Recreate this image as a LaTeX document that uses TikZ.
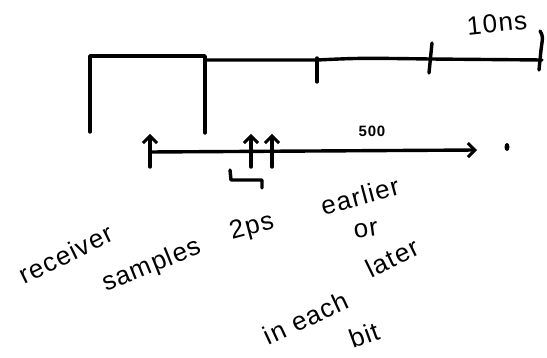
\documentclass[tikz,border=0pt]{standalone}
\usepackage{fontspec}
\setmainfont{Liberation Sans}[LetterSpace=5]
\usetikzlibrary{arrows.meta}
\begin{document}
\begin{tikzpicture}[x=1pt,y=-1pt,
  pen/.style={line width=3.4pt,line cap=round,line join=round,black},
  hand/.style={font=\fontsize{26}{28}\selectfont,inner sep=0pt},
  barb/.style={-{Straight Barb[length=7pt,width=14pt,line width=3pt]}}]
\useasboundingbox (0,0) rectangle (547,358);
% waveform
\coordinate (w0) at (90,132);
\coordinate (w1) at (90,56);
\coordinate (w2) at (205,56);
\coordinate (w3) at (205,133);
\coordinate (w4) at (207,60);
\coordinate (w5) at (317,60);
\coordinate (w6) at (430,59);
\coordinate (w7) at (542,60);
\draw[pen] (w0) -- (w1) -- (w2) -- (w3);
\draw[pen] (w4) -- (w5) .. controls (360,58) .. (w6) -- (w7);
% ticks
\coordinate (t1a) at (317,58); \coordinate (t1b) at (317,82);
\coordinate (t2a) at (432,43); \coordinate (t2b) at (429,73);
\coordinate (t3a) at (540,31); \coordinate (t3b) at (539,70);
\draw[pen] (t1a) -- (t1b);
\draw[pen] (t2a) -- (t2b);
\draw[pen] (t3a) .. controls (543,36) .. (541,50) -- (t3b);
\node[hand,rotate=6] (tenns) at (497,23) {10ns};
% time axis
\coordinate (a0) at (150,152);
\coordinate (a1) at (477,150);
\draw[pen,barb] (a0) -- (a1);
\node[font=\fontsize{15}{16}\selectfont\bfseries,inner sep=0pt] (five) at (372,131) {500};
\fill (507,147) ellipse (2.5pt and 4pt);
\coordinate (dot) at (507,147);
% sample arrows
\coordinate (s1b) at (150,167); \coordinate (s1t) at (150,134);
\coordinate (s2b) at (251,167); \coordinate (s2t) at (251,134);
\coordinate (s3b) at (272,167); \coordinate (s3t) at (272,134);
\draw[pen,barb] (s1b) -- (s1t);
\draw[pen,barb] (s2b) -- (s2t);
\draw[pen,barb] (s3b) -- (s3t);
% bracket
\coordinate (b0) at (230,170); \coordinate (b1) at (231,180);
\coordinate (b2) at (262,180); \coordinate (b3) at (262,188);
\draw[pen] (b0) -- (b1) -- (b2) -- (b3);
% texts
\node[hand,rotate=26] (recv) at (66,254) {receiver};
\node[hand,rotate=22] (samp) at (152,266) {samples};
\node[hand,rotate=15] (twops) at (252,228) {2ps};
\node[hand,rotate=15] (earl) at (360,196) {earlier};
\node[hand,rotate=8] (or) at (366,230) {or};
\node[hand,rotate=26] (later) at (392,258) {later};
\node[hand,rotate=25] (ineach) at (306,318) {in each};
\node[hand,rotate=20] (bit) at (364,335) {bit};
\end{tikzpicture}
\end{document}
